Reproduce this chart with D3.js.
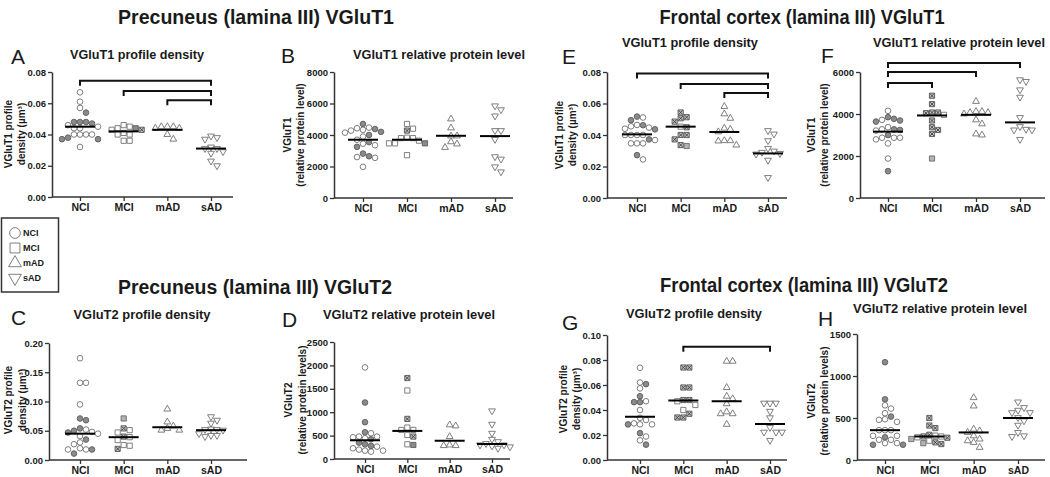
<!DOCTYPE html>
<html><head><meta charset="utf-8">
<script src="https://cdn.jsdelivr.net/npm/d3@7"></script>
<style>
body{margin:0;background:#fff}
svg{display:block}
text{font-family:"Liberation Sans",Arial,Helvetica,sans-serif}
</style>
</head><body>
<svg id="chart" width="1050" height="477"></svg>
<script>
// ---------------- DATA ----------------
const groups = ["NCI", "MCI", "mAD", "sAD"];
// kind codes: o = open, f = gray filled, x = crossed, g = light gray

// Panel A: Precuneus VGluT1 profile density
const A_vals = [
  [0.067,0.061,0.057,0.054,0.048,0.048,0.047,0.048,0.046,0.045,0.044,0.044,0.040,0.040,0.040,0.040,0.037,0.037,0.038,0.032],
  [0.046,0.045,0.044,0.043,0.044,0.043,0.041,0.040,0.040,0.036,0.036],
  [0.045,0.044,0.044,0.045,0.045,0.037,0.040],
  [0.039,0.037,0.038,0.032,0.031,0.031,0.029,0.028,0.023,0.020]];
const A_kind = ["ooofffffoooooooofffo", "oooofxooooo", "", ""];
const A_med = [0.045, 0.042, 0.043, 0.031];
const A_ticks = [0, 0.02, 0.04, 0.06, 0.08];
const A_sig = [[0, 3, 0.0744], [1, 3, 0.0678], [2, 3, 0.062]];

// Panel B: Precuneus VGluT1 relative protein level
const B_vals = [
  [4700,4430,4330,4280,4380,4470,4000,4200,4150,3900,3700,3450,3250,3350,3550,2650,2550,2600,2820,1980],
  [4700,4400,4280,3830,3800,3800,3640,3470,3470,3470,2720],
  [5020,4450,3940,3940,3570,3430,3210],
  [5850,5600,5210,4280,4280,3720,2470,2620,1980,1660]];
const B_kind = ["fooofoffoooofoffoofo", "ooxooooofoo", "", ""];
const B_med = [3700, 3700, 3950, 3930];
const B_ticks = [0, 2000, 4000, 6000, 8000];
const B_sig = [];

// Panel E: Frontal cortex VGluT1 profile density
const E_vals = [
  [0.0517,0.0494,0.0511,0.0462,0.0447,0.0436,0.044,0.0464,0.0372,0.040,0.040,0.040,0.040,0.0347,0.0347,0.0347,0.0368,0.0245,0.0272,0.0455],
  [0.0543,0.0506,0.0513,0.0485,0.0449,0.0453,0.0372,0.040,0.040,0.0336,0.033],
  [0.0581,0.0534,0.0506,0.0443,0.0436,0.042,0.0362,0.0336,0.0364,0.0364],
  [0.0428,0.0406,0.0364,0.0315,0.0298,0.0279,0.029,0.0283,0.024,0.013]];
const E_kind = ["ffofofoofooooooooofo", "xxxxxoxxxxg", "", ""];
const E_med = [0.0404, 0.0453, 0.0419, 0.0283];
const E_ticks = [0, 0.02, 0.04, 0.06, 0.08];
const E_sig = [[0, 3, 0.079], [1, 3, 0.0724], [2, 3, 0.0667]];

// Panel F: Frontal cortex VGluT1 relative protein level
const F_vals = [
  [4150,3850,3720,3640,3690,3770,3370,3240,3210,3270,3270,2870,2790,3000,2870,2870,2600,1880,1280],
  [4870,4470,4070,3960,4040,4070,3690,3370,3240,3050,1880],
  [4600,4120,4070,4000,4070,4120,3720,3530,3000,3050],
  [5550,5630,5150,4800,3830,3270,3240,3240,3400,2790]];
const F_kind = ["ofofffofofooofoooof", "xxxoxxxxxxg", "", ""];
const F_med = [3160, 3930, 3960, 3600];
const F_ticks = [0, 2000, 4000, 6000];
const F_sig = [[0, 3, 6430], [0, 2, 6000], [0, 1, 5476]];

// Panel C: Precuneus VGluT2 profile density
const C_vals = [
  [0.174,0.132,0.132,0.095,0.068,0.071,0.052,0.054,0.050,0.048,0.047,0.045,0.041,0.035,0.027,0.030,0.020,0.018,0.018,0.018,0.011],
  [0.071,0.054,0.047,0.051,0.039,0.040,0.034,0.0256,0.0244,0.019],
  [0.087,0.065,0.054,0.051,0.051,0.058],
  [0.074,0.068,0.063,0.053,0.052,0.052,0.051,0.045,0.042,0.040,0.042]];
const C_kind = ["ooooffoffofoofoooofof", "gxoooxooox", "", ""];
const C_med = [0.045, 0.039, 0.056, 0.051];
const C_ticks = [0, 0.05, 0.10, 0.15, 0.20];
const C_sig = [];

// Panel D: Precuneus VGluT2 relative protein level
const D_vals = [
  [1957,1207,786,571,550,479,479,421,443,464,350,314,264,229,179,157,179,200,280],
  [1730,1464,857,671,621,621,479,514,300,314],
  [707,729,479,300,286,286],
  [1029,743,550,421,371,300,280,229,260,300,330]];
const D_kind = ["offfooofooffoooooof", "xoxoooxofo", "", ""];
const D_med = [400, 600, 390, 320];
const D_ticks = [0, 500, 1000, 1500, 2000, 2500];
const D_sig = [];

// Panel G: Frontal cortex VGluT2 profile density
const G_vals = [
  [0.0738,0.062,0.0573,0.0607,0.051,0.047,0.0463,0.0463,0.040,0.032,0.0285,0.0285,0.0293,0.0285,0.0338,0.0188,0.0215,0.0157,0.0123],
  [0.074,0.074,0.058,0.058,0.048,0.048,0.047,0.044,0.040,0.037,0.034,0.034],
  [0.079,0.079,0.058,0.051,0.049,0.045,0.0385,0.037,0.037,0.0285],
  [0.0455,0.0455,0.0455,0.039,0.0338,0.026,0.0223,0.0223,0.0223,0.0157]];
const G_kind = ["oooffoffooooofoofof", "xxxxxxoooxxx", "", ""];
const G_med = [0.0346, 0.0476, 0.047, 0.0288];
const G_ticks = [0, 0.02, 0.04, 0.06, 0.08, 0.10];
const G_sig = [[1, 3, 0.0906]];

// Panel H: Frontal cortex VGluT2 relative protein level
const H_vals = [
  [1164,722,651,612,557,517,454,485,478,355,355,355,288,288,270,241,201,182,182,201,241],
  [500,410,380,300,290,280,270,265,250,230,210,200,190,280],
  [742,643,367,347,328,288,249,229,209,150],
  [691,592,564,564,624,505,414,466,288,280,328]];
const H_kind = ["ffooofoooooooofooffooo", "xxxxoxoxgoxgxo", "", ""];
const H_med = [355, 280, 328, 500];
const H_ticks = [0, 500, 1000, 1500];
const H_sig = [];

// Text
const sectionTitles = ["Precuneus (lamina III) VGluT1", "Frontal cortex (lamina III) VGluT1",
                       "Precuneus (lamina III) VGluT2", "Frontal cortex (lamina III) VGluT2"];

// ---------------- LAYOUT ----------------
const panels = [
  {L:"A", vals:A_vals, kind:A_kind, med:A_med, ticks:A_ticks, sig:A_sig, fmt:".2f",
   title:"VGluT1 profile density", yl:["VGluT1 profile","density (µm³)"],
   cat:[80,211], ax:[52,233], y:[197,72], tt:[137,59,134], lt:[11,64], yl1:8, yl2:21, ylc:134},
  {L:"B", vals:B_vals, kind:B_kind, med:B_med, ticks:B_ticks, sig:B_sig, fmt:"d",
   title:"VGluT1 relative protein level", yl:["VGluT1","(relative protein level)"],
   cat:[363,495], ax:[334,513], y:[198,72], tt:[439,59,172], lt:[281,63], yl1:287, yl2:300, ylc:135},
  {L:"E", vals:E_vals, kind:E_kind, med:E_med, ticks:E_ticks, sig:E_sig, fmt:".2f",
   title:"VGluT1 profile density", yl:["VGluT1 profile","density (µm³)"],
   cat:[637,768], ax:[607,787], y:[198,72], tt:[690,47,136], lt:[562,64], yl1:559, yl2:572, ylc:135},
  {L:"F", vals:F_vals, kind:F_kind, med:F_med, ticks:F_ticks, sig:F_sig, fmt:"d",
   title:"VGluT1 relative protein level", yl:["VGluT1","(relative protein level)"],
   cat:[888,1020], ax:[860,1045], y:[198,72], tt:[959,47,172], lt:[821,63], yl1:811, yl2:824, ylc:135},
  {L:"C", vals:C_vals, kind:C_kind, med:C_med, ticks:C_ticks, sig:C_sig, fmt:".2f",
   title:"VGluT2 profile density", yl:["VGluT2 profile","density (µm³)"],
   cat:[80,211], ax:[49,247], y:[460,343], tt:[142,319,137], lt:[11,325], yl1:8, yl2:22, ylc:400},
  {L:"D", vals:D_vals, kind:D_kind, med:D_med, ticks:D_ticks, sig:D_sig, fmt:"d",
   title:"VGluT2 relative protein level", yl:["VGluT2","(relative protein levels)"],
   cat:[365,492], ax:[334,510], y:[459,342], tt:[409,319,172], lt:[282,327], yl1:288, yl2:302, ylc:400},
  {L:"G", vals:G_vals, kind:G_kind, med:G_med, ticks:G_ticks, sig:G_sig, fmt:".2f",
   title:"VGluT2 profile density", yl:["VGluT2 profile","density (µm³)"],
   cat:[640,770], ax:[607,787], y:[460,335], tt:[694,318,136], lt:[562,330], yl1:563, yl2:576, ylc:399},
  {L:"H", vals:H_vals, kind:H_kind, med:H_med, ticks:H_ticks, sig:H_sig, fmt:"d",
   title:"VGluT2 relative protein level", yl:["VGluT2","(relative protein levels)"],
   cat:[885,1018], ax:[857,1045], y:[460,334], tt:[940,313,174], lt:[818,326], yl1:811, yl2:824, ylc:401}
];
const sectionPos = [[256,24,276],[802,24,285],[255,294,274],[804,292,288]];

// ---------------- DRAW ----------------
const svg = d3.select("#chart");
const INK = "#1a1a1a";

sectionTitles.forEach((t, i) => {
  const [x, y, w] = sectionPos[i];
  svg.append("text").attr("x", x).attr("y", y).attr("text-anchor", "middle")
    .attr("font-size", 19.5).attr("font-weight", "bold").attr("fill", INK)
    .attr("textLength", w).attr("lengthAdjust", "spacingAndGlyphs").text(t);
});

const symTypes = [d3.symbolCircle, d3.symbolSquare, d3.symbolTriangle, d3.symbolTriangle];
const symSize = [25, 27, 20, 20];
const kindStyle = {
  o: {fill:"#ffffff", stroke:"#707070"},
  f: {fill:"#8a8a8a", stroke:"#5c5c5c"},
  x: {fill:"#c4c4c4", stroke:"#555555"},
  g: {fill:"#b3b3b3", stroke:"#6a6a6a"}
};

function swarm(vals, y, step, minD) {
  const idx = vals.map((v, i) => i).sort((a, b) => vals[b] - vals[a]);
  const placed = [], off = new Array(vals.length);
  for (const i of idx) {
    const py = y(vals[i]);
    const right = placed.filter(p => Math.abs(p.y - py) < minD && p.x > 0).length;
    const left = placed.filter(p => Math.abs(p.y - py) < minD && p.x < 0).length;
    for (let k = 0; k < 60; k++) {
      const m = Math.ceil(k / 2);
      let sgn = (k % 2 ? 1 : -1);
      if (left < right) sgn = -sgn;
      const dx = k === 0 ? 0 : sgn * m * step;
      if (placed.every(p => Math.hypot(p.x - dx, p.y - py) >= minD)) {
        off[i] = dx; placed.push({x: dx, y: py}); break;
      }
    }
  }
  return off;
}

function drawSymbol(g, gi, kind, cx, cy, scale) {
  const st = kindStyle[kind] || kindStyle.o;
  const sz = symSize[gi] * (scale || 1);
  g.append("path")
    .attr("d", d3.symbol().type(symTypes[gi]).size(sz)())
    .attr("transform", `translate(${cx},${cy})` + (gi === 3 ? " rotate(180)" : ""))
    .attr("fill", st.fill).attr("stroke", st.stroke).attr("stroke-width", 0.9);
  if (kind === "x") {
    const h = Math.sqrt(sz) / 2 - 0.6;
    g.append("path")
      .attr("d", `M${cx-h},${cy-h}L${cx+h},${cy+h}M${cx-h},${cy+h}L${cx+h},${cy-h}`)
      .attr("stroke", "#3a3a3a").attr("stroke-width", 0.9).attr("fill", "none");
  }
}

panels.forEach(P => {
  const g = svg.append("g");
  const x = d3.scalePoint().domain(groups).range(P.cat);
  const yMax = P.ticks[P.ticks.length - 1];
  const y = d3.scaleLinear().domain([0, yMax]).range(P.y);

  g.append("text").attr("x", P.lt[0]).attr("y", P.lt[1]).attr("font-size", 21)
    .attr("fill", INK).text(P.L);
  g.append("text").attr("x", P.tt[0]).attr("y", P.tt[1]).attr("text-anchor", "middle")
    .attr("font-size", 12.6).attr("font-weight", "bold").attr("fill", INK)
    .attr("textLength", P.tt[2]).attr("lengthAdjust", "spacingAndGlyphs").text(P.title);
  [[P.yl[0], P.yl1], [P.yl[1], P.yl2]].forEach(([t, xx]) => {
    g.append("text").attr("transform", `translate(${xx},${P.ylc}) rotate(-90)`)
      .attr("text-anchor", "middle").attr("dominant-baseline", "central")
      .attr("font-size", 10).attr("font-weight", "bold").attr("fill", INK).text(t);
  });

  const fmt = d3.format(P.fmt);
  const ya = g.append("g").attr("transform", `translate(${P.ax[0]},0)`)
    .call(d3.axisLeft(y).tickValues(P.ticks).tickFormat(fmt).tickSize(4).tickSizeOuter(0));
  ya.select(".domain").attr("stroke", "#333").attr("stroke-width", 1.5);
  ya.selectAll(".tick line").attr("stroke", "#333").attr("stroke-width", 1.3);
  ya.selectAll(".tick text").attr("font-size", 9.5).attr("font-weight", "bold")
    .attr("fill", INK).attr("font-family", null).attr("x", -6);

  g.append("line").attr("x1", P.ax[0]).attr("x2", P.ax[1])
    .attr("y1", y(0)).attr("y2", y(0)).attr("stroke", "#333").attr("stroke-width", 1.5);
  const xa = g.append("g").attr("transform", `translate(0,${y(0)})`)
    .call(d3.axisBottom(x).tickSize(4).tickPadding(3));
  xa.select(".domain").remove();
  xa.selectAll(".tick line").attr("stroke", "#333").attr("stroke-width", 1.3);
  xa.selectAll(".tick text").attr("font-size", 10.5).attr("font-weight", "bold")
    .attr("fill", INK).attr("font-family", null);

  P.vals.forEach((vals, gi) => {
    const offs = swarm(vals, y, 6, 5.7);
    vals.forEach((v, i) => {
      const k = P.kind[gi][i] || "o";
      drawSymbol(g, gi, k, x(groups[gi]) + offs[i], y(v));
    });
    g.append("line").attr("x1", x(groups[gi]) - 15).attr("x2", x(groups[gi]) + 15)
      .attr("y1", y(P.med[gi])).attr("y2", y(P.med[gi]))
      .attr("stroke", "#000").attr("stroke-width", 2);
  });

  P.sig.forEach(([a, b, lv]) => {
    const x1 = x(groups[a]), x2 = x(groups[b]), yy = y(lv);
    g.append("path").attr("d", `M${x1},${yy + 5}V${yy}H${x2}V${yy + 5}`)
      .attr("fill", "none").attr("stroke", "#111").attr("stroke-width", 2);
  });
});

// legend
const lg = svg.append("g");
lg.append("rect").attr("x", 1.5).attr("y", 218).attr("width", 57).attr("height", 74)
  .attr("fill", "#fff").attr("stroke", "#333").attr("stroke-width", 1.5);
const legY = [233, 248, 263, 278];
groups.forEach((gname, gi) => {
  drawSymbol(lg, gi, "o", 15, legY[gi], 3.6);
  lg.append("text").attr("x", 23).attr("y", legY[gi]).attr("dominant-baseline", "central")
    .attr("font-size", 9).attr("font-weight", "bold").attr("fill", INK).text(gname);
});
</script>
</body></html>
